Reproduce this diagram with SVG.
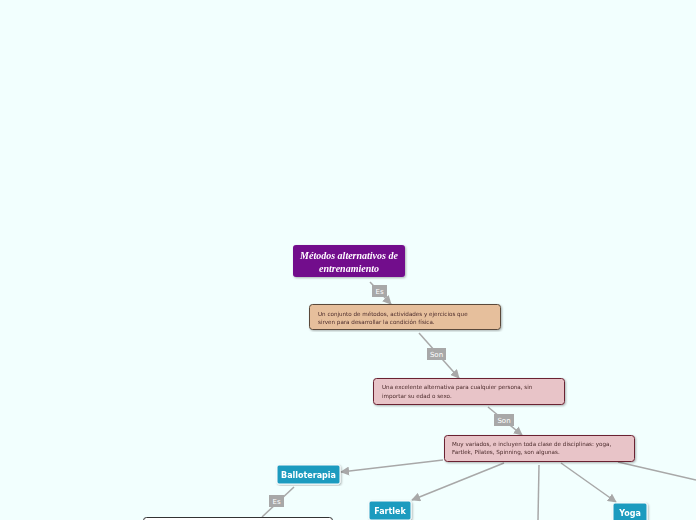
<svg xmlns="http://www.w3.org/2000/svg" width="696" height="520" viewBox="0 0 696 520">
<defs>
<style>
.c{stroke:#a8a8a8;stroke-width:1.5;fill:none}
.lb rect{fill:#a8a8a8}
.lb text{font-family:"DejaVu Sans",sans-serif;font-size:7px;fill:#fff;text-anchor:middle}
.t{font-family:"DejaVu Sans",sans-serif;font-size:5.6px;fill:#4a2a2a}
.b{fill:#1a9bbf;stroke:#fff;stroke-width:1}
.bt{font-family:"DejaVu Sans",sans-serif;font-size:8px;font-weight:bold;fill:#fff;text-anchor:middle}
</style>
<marker id="a" viewBox="0 0 10 10" refX="9" refY="5" markerWidth="6" markerHeight="6" orient="auto"><path d="M0,0L10,5L0,10z" fill="#a8a8a8"/></marker>
<filter id="s"><feDropShadow dx="1" dy="1" stdDeviation="1" flood-opacity="0.3"/></filter>
</defs>
<rect width="696" height="520" fill="#f2fffe"/>
<g id="connectors">
<path class="c" d="M370,282L391,304" marker-end="url(#a)"/>
<path class="c" d="M419,333L459,378" marker-end="url(#a)"/>
<path class="c" d="M488,407L522,435" marker-end="url(#a)"/>
<path class="c" d="M443,460L341,472" marker-end="url(#a)"/>
<path class="c" d="M504,463L412,500" marker-end="url(#a)"/>
<path class="c" d="M539,465L538,520"/>
<path class="c" d="M561,463L616,502" marker-end="url(#a)"/>
<path class="c" d="M618,462L696,480"/>
<path class="c" d="M294,487L262,517"/>
<g class="lb"><rect x="372" y="285" width="15" height="12"/><text x="379.5" y="294">Es</text></g>
<g class="lb"><rect x="427" y="348" width="19" height="12"/><text x="436.5" y="357">Son</text></g>
<g class="lb"><rect x="494" y="414" width="20" height="12"/><text x="504" y="423">Son</text></g>
<g class="lb"><rect x="269" y="495" width="15" height="12"/><text x="276.5" y="504">Es</text></g>
</g>
<g id="n1" filter="url(#s)"><rect x="293" y="245" width="112" height="32" rx="3" fill="#72088c"/>
<text font-family="Liberation Serif,serif" font-style="italic" font-weight="bold" font-size="10" fill="#fff" text-anchor="middle"><tspan x="349" y="259">Métodos alternativos de</tspan><tspan x="349" y="272">entrenamiento</tspan></text></g>
<g id="n2" filter="url(#s)"><rect x="309.5" y="304.5" width="191" height="25" rx="3" fill="#e6bf9c" stroke="#5a4a3a"/>
<text class="t"><tspan x="318" y="316">Un conjunto de métodos, actividades y ejercicios que</tspan><tspan x="318" y="324">sirven para desarrollar la condición física.</tspan></text></g>
<g id="n3" filter="url(#s)"><rect x="373.5" y="378.5" width="191" height="26" rx="3" fill="#e8c4c8" stroke="#6a2030"/>
<text class="t"><tspan x="382" y="389">Una excelente alternativa para cualquier persona, sin</tspan><tspan x="382" y="398">importar su edad o sexo.</tspan></text></g>
<g id="n4" filter="url(#s)"><rect x="444.5" y="435.5" width="190" height="26" rx="3" fill="#e8c4c8" stroke="#6a2030"/>
<text class="t"><tspan x="452" y="446">Muy variados, e incluyen toda clase de disciplinas: yoga,</tspan><tspan x="452" y="454">Fartlek, Pilates, Spinning, son algunas.</tspan></text></g>
<g id="n5" filter="url(#s)"><rect class="b" x="277" y="465" width="63" height="19" rx="2"/><text class="bt" x="308.5" y="478">Balloterapia</text></g>
<g id="n6" filter="url(#s)"><rect class="b" x="369" y="501" width="42" height="19" rx="2"/><text class="bt" x="390" y="514">Fartlek</text></g>
<g id="n7" filter="url(#s)"><rect class="b" x="613" y="503" width="34" height="19" rx="2"/><text class="bt" x="630" y="516">Yoga</text></g>
<g id="n8"><rect x="143.5" y="517.5" width="189" height="20" rx="3" fill="#fff" stroke="#333"/></g>
</svg>
